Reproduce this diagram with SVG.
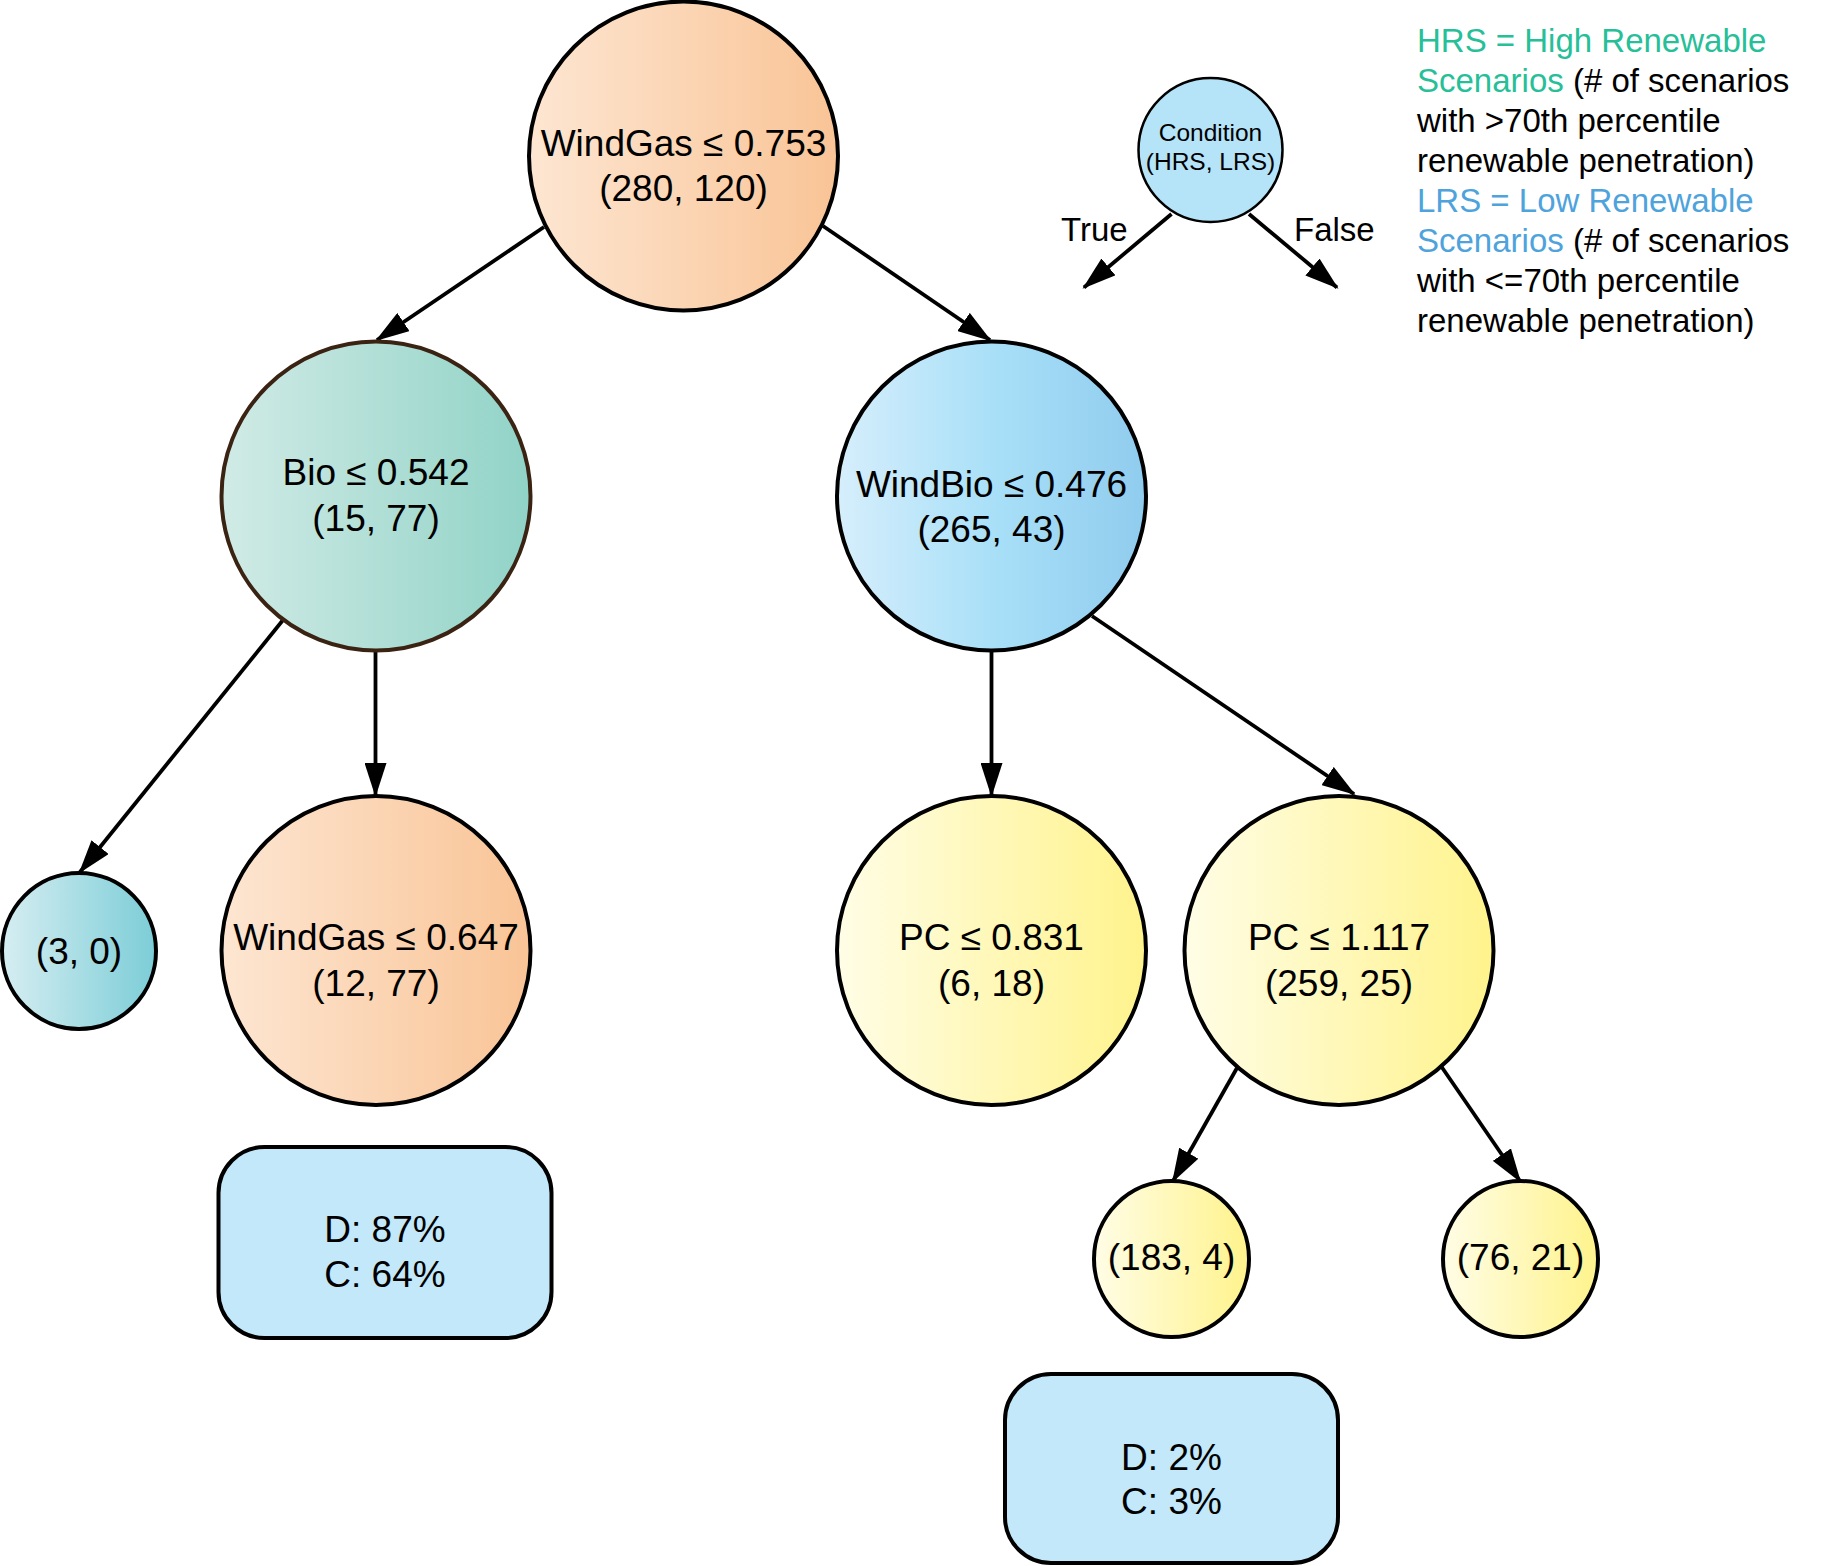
<svg xmlns="http://www.w3.org/2000/svg" width="1836" height="1566" viewBox="0 0 1836 1566">
<defs>
<linearGradient id="gOrange" x1="0" y1="0" x2="1" y2="0"><stop offset="0" stop-color="#fde6d2"/><stop offset="1" stop-color="#f9c496"/></linearGradient>
<linearGradient id="gTeal" x1="0" y1="0" x2="1" y2="0"><stop offset="0" stop-color="#d1ebe6"/><stop offset="1" stop-color="#91d3c7"/></linearGradient>
<linearGradient id="gBlue" x1="0" y1="0" x2="1" y2="0"><stop offset="0" stop-color="#d6eefc"/><stop offset="0.5" stop-color="#a9e0f8"/><stop offset="1" stop-color="#90ccee"/></linearGradient>
<linearGradient id="gCyan" x1="0" y1="0" x2="1" y2="0"><stop offset="0" stop-color="#d6eef2"/><stop offset="1" stop-color="#7ccdd7"/></linearGradient>
<linearGradient id="gYellow" x1="0" y1="0" x2="1" y2="0"><stop offset="0" stop-color="#fffde6"/><stop offset="1" stop-color="#fff38c"/></linearGradient>
<marker id="arr" markerUnits="userSpaceOnUse" markerWidth="34" markerHeight="22" viewBox="0 0 34 22" refX="32" refY="11" orient="auto"><path d="M0,0 L34,11 L0,22 z" fill="#000"/></marker>
<style>
.n{stroke:#000;stroke-width:4}
.t{font-family:"Liberation Sans",Arial,sans-serif;font-size:37px;fill:#000;text-anchor:middle}
.c{stroke:#000;stroke-width:3.8;fill:none;marker-end:url(#arr)}
.lg{font-family:"Liberation Sans",Arial,sans-serif;font-size:33px;fill:#000}
.hrs{fill:#26bf98}
.lrs{fill:#4ea3dc}
.box{fill:#c2e8fa;stroke:#000;stroke-width:4}
</style>
</defs>
<rect width="1836" height="1566" fill="#fff"/>
<g id="connectors">
<line class="c" x1="544" y1="227" x2="377" y2="340"/>
<line class="c" x1="823" y1="226" x2="990" y2="340"/>
<line class="c" x1="283" y1="620" x2="80" y2="872"/>
<line class="c" x1="375.5" y1="651" x2="375.5" y2="795"/>
<line class="c" x1="991.5" y1="651" x2="991.5" y2="795"/>
<line class="c" x1="1092" y1="616" x2="1354" y2="794"/>
<line class="c" x1="1237" y1="1068" x2="1173" y2="1181"/>
<line class="c" x1="1441" y1="1066" x2="1520" y2="1181"/>
<line class="c" x1="1171.5" y1="214" x2="1084" y2="287.5"/>
<line class="c" x1="1249" y1="214" x2="1337" y2="287.5"/>
</g>
<g id="root">
<circle class="n" cx="683.5" cy="156" r="154.5" fill="url(#gOrange)"/>
<text class="t" x="683.5" y="156">WindGas ≤ 0.753</text>
<text class="t" x="683.5" y="201">(280, 120)</text>
</g>
<g id="bio">
<circle cx="376" cy="496" r="154.5" fill="url(#gTeal)" stroke="#3b2314" stroke-width="4"/>
<text class="t" x="376" y="485">Bio ≤ 0.542</text>
<text class="t" x="376" y="531">(15, 77)</text>
</g>
<g id="windbio">
<circle class="n" cx="991.5" cy="496" r="154.5" fill="url(#gBlue)"/>
<text class="t" x="991.5" y="496.5">WindBio ≤ 0.476</text>
<text class="t" x="991.5" y="542">(265, 43)</text>
</g>
<g id="leaf30">
<ellipse class="n" cx="79" cy="951" rx="77" ry="78" fill="url(#gCyan)"/>
<text class="t" x="79" y="964">(3, 0)</text>
</g>
<g id="windgas647">
<circle class="n" cx="376" cy="950.5" r="154.5" fill="url(#gOrange)"/>
<text class="t" x="376" y="949.5">WindGas ≤ 0.647</text>
<text class="t" x="376" y="995.5">(12, 77)</text>
</g>
<g id="pc831">
<circle class="n" cx="991.5" cy="950.5" r="154.5" fill="url(#gYellow)"/>
<text class="t" x="991.5" y="949.5">PC ≤ 0.831</text>
<text class="t" x="991.5" y="995.5">(6, 18)</text>
</g>
<g id="pc1117">
<circle class="n" cx="1339" cy="950.5" r="154.5" fill="url(#gYellow)"/>
<text class="t" x="1339" y="949.5">PC ≤ 1.117</text>
<text class="t" x="1339" y="995.5">(259, 25)</text>
</g>
<g id="leaf1834">
<ellipse class="n" cx="1171.5" cy="1259" rx="77.5" ry="78" fill="url(#gYellow)"/>
<text class="t" x="1171.5" y="1270">(183, 4)</text>
</g>
<g id="leaf7621">
<ellipse class="n" cx="1520.5" cy="1259" rx="77.5" ry="78" fill="url(#gYellow)"/>
<text class="t" x="1520.5" y="1270">(76, 21)</text>
</g>
<g id="box87">
<rect class="box" x="218.5" y="1147" width="333" height="191" rx="46" ry="46"/>
<text class="t" x="385" y="1242">D: 87%</text>
<text class="t" x="385" y="1287">C: 64%</text>
</g>
<g id="box2">
<rect class="box" x="1005" y="1374" width="333" height="189" rx="46" ry="46"/>
<text class="t" x="1171.5" y="1470">D: 2%</text>
<text class="t" x="1171.5" y="1514">C: 3%</text>
</g>
<g id="condition">
<circle cx="1210.5" cy="150" r="72" fill="#b5e3f8" stroke="#000" stroke-width="2.5"/>
<text x="1210.5" y="141" font-family="Liberation Sans, Arial, sans-serif" font-size="24.5" text-anchor="middle">Condition</text>
<text x="1210.5" y="170" font-family="Liberation Sans, Arial, sans-serif" font-size="24.5" text-anchor="middle">(HRS, LRS)</text>
</g>
<g id="truefalse">
<text class="lg" x="1061" y="241" font-size="32">True</text>
<text class="lg" x="1294" y="241" font-size="32">False</text>
</g>
<g id="legend">
<text class="lg" x="1417" y="52"><tspan class="hrs">HRS = High Renewable</tspan></text>
<text class="lg" x="1417" y="92"><tspan class="hrs">Scenarios</tspan> (# of scenarios</text>
<text class="lg" x="1417" y="132">with &gt;70th percentile</text>
<text class="lg" x="1417" y="172">renewable penetration)</text>
<text class="lg" x="1417" y="212"><tspan class="lrs">LRS = Low Renewable</tspan></text>
<text class="lg" x="1417" y="252"><tspan class="lrs">Scenarios</tspan> (# of scenarios</text>
<text class="lg" x="1417" y="292">with &lt;=70th percentile</text>
<text class="lg" x="1417" y="332">renewable penetration)</text>
</g>
</svg>
